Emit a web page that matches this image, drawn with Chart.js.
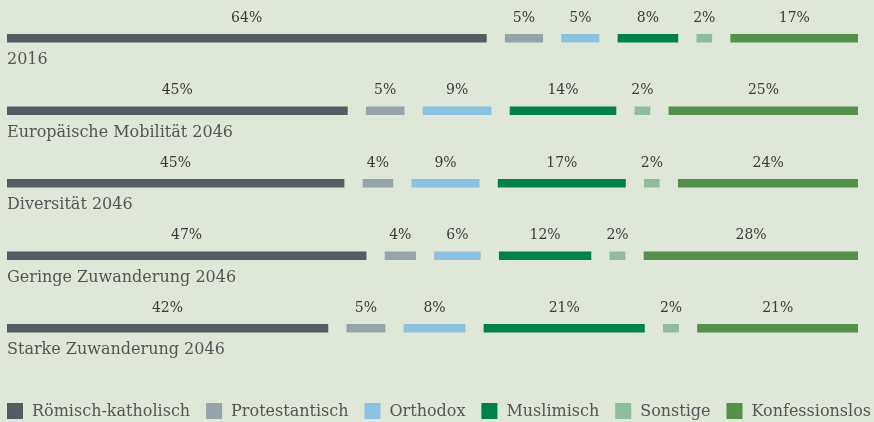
<!DOCTYPE html>
<html>
<head>
<meta charset="utf-8">
<script src="https://cdn.jsdelivr.net/npm/chart.js@4.4.1/dist/chart.umd.min.js"></script>
<style>
  html, body { margin: 0; padding: 0; background: #dee7d8; }
  #wrap { width: 874px; height: 422px; position: relative; }
</style>
</head>
<body>
<div id="wrap"><canvas id="chart"></canvas></div>
<script>
const categories = ['2016', 'Europäische Mobilität 2046', 'Diversität 2046', 'Geringe Zuwanderung 2046', 'Starke Zuwanderung 2046']
const seriesNames = ['Römisch-katholisch', 'Protestantisch', 'Orthodox', 'Muslimisch', 'Sonstige', 'Konfessionslos']
const romKath = [64, 45, 45, 47, 42]
const protestantisch = [5, 5, 4, 4, 5]
const orthodox = [5, 9, 9, 6, 8]
const muslimisch = [8, 14, 17, 12, 21]
const sonstige = [2, 2, 2, 2, 2]
const konfessionslos = [17, 25, 24, 28, 21]
const colors = ['#535c62', '#95a4aa', '#8ac2e0', '#00804b', '#8fbd9c', '#53904a']

const GAP = 2.5 // Abstand zwischen den Segmenten, in Achseneinheiten
const series = [romKath, protestantisch, orthodox, muslimisch, sonstige, konfessionslos]

// Jede Zeile auf 100 normieren und als schwebende Balken [start, ende] aufbauen
const ranges = series.map(() => [])
categories.forEach((c, row) => {
    const total = series.reduce((s, arr) => s + arr[row], 0)
    let pos = 0
    series.forEach((arr, i) => {
        const w = arr[row] / total * 100
        ranges[i].push([pos, pos + w])
        pos += w + GAP
    })
})

const FONT = '"DejaVu Serif", serif'

const labelPlugin = {
    id: 'rowLabels',
    afterDatasetsDraw(chart) {
        const ctx = chart.ctx
        ctx.save()
        ctx.textBaseline = 'middle'
        // Prozentwerte über den Segmenten
        ctx.font = '14px ' + FONT
        ctx.fillStyle = '#3a3a3a'
        ctx.textAlign = 'center'
        chart.data.datasets.forEach((ds, i) => {
            chart.getDatasetMeta(i).data.forEach((bar, j) => {
                ctx.fillText(series[i][j] + '%', (bar.x + bar.base) / 2, bar.y - 20)
            })
        })
        // Szenario-Namen unter den Balken
        ctx.font = '16px ' + FONT
        ctx.fillStyle = '#555'
        ctx.textAlign = 'left'
        chart.getDatasetMeta(0).data.forEach((bar, j) => {
            ctx.fillText(categories[j], chart.chartArea.left, bar.y + 22)
        })
        // Legende unten, über die ganze Breite verteilt
        const items = chart.data.datasets.map(ds => ({ text: ds.label, color: ds.backgroundColor, w: 16 + 9 + ctx.measureText(ds.label).width }))
        const used = items.reduce((s, it) => s + it.w, 0)
        const space = (871 - 7 - used) / (items.length - 1)
        let x = 7
        const y = 411
        items.forEach(it => {
            ctx.fillStyle = it.color
            ctx.fillRect(x, y - 8, 16, 16)
            ctx.fillStyle = '#555'
            ctx.fillText(it.text, x + 25, y + 1)
            x += it.w + space
        })
        ctx.restore()
    }
}

new Chart(document.getElementById('chart'), {
    type: 'bar',
    data: {
        labels: categories,
        datasets: seriesNames.map((name, i) => ({
            label: name,
            data: ranges[i],
            backgroundColor: colors[i],
            barThickness: 8,
            grouped: false
        }))
    },
    options: {
        indexAxis: 'y',
        responsive: true,
        maintainAspectRatio: false,
        animation: false,
        layout: { padding: { left: 7, right: 16, top: 2, bottom: 57.5 } },
        scales: {
            x: { display: false, min: 0, max: 100 + GAP * 5 },
            y: { display: false }
        },
        plugins: {
            legend: { display: false },
            tooltip: { enabled: false }
        }
    },
    plugins: [labelPlugin]
})
</script>
</body>
</html>
